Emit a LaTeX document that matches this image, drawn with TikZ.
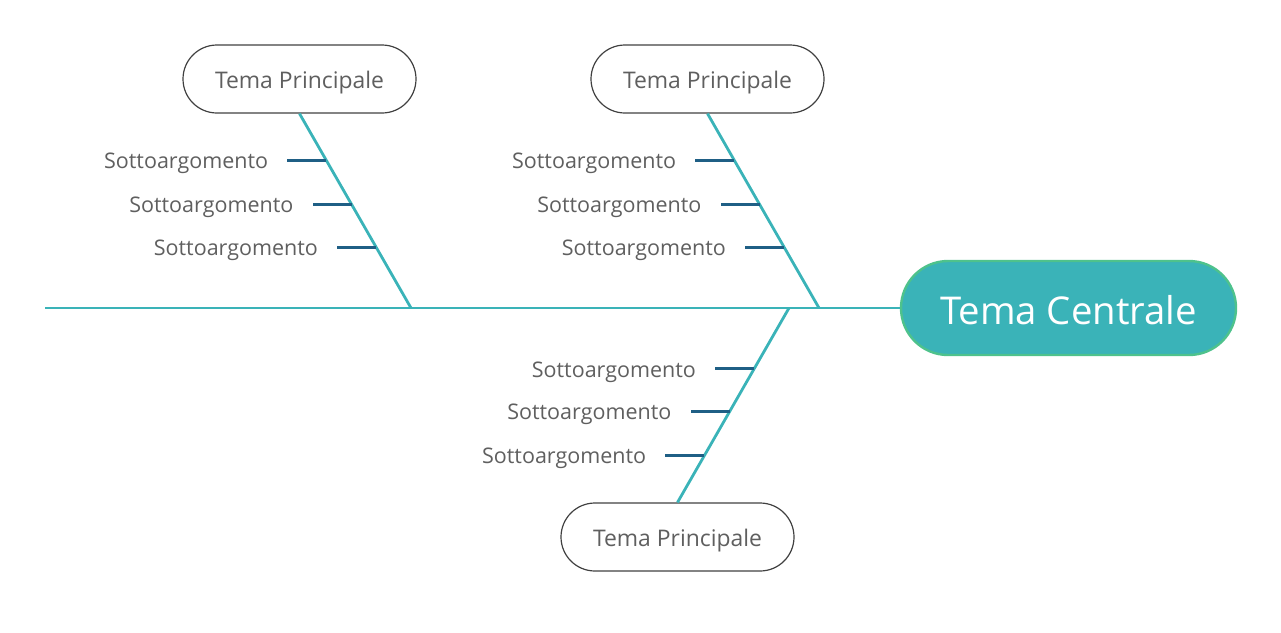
\documentclass[tikz,border=0pt]{standalone}
\usepackage{fontspec}
\setmainfont{Open Sans}
\usetikzlibrary{calc}
\definecolor{bone}{HTML}{3AB3B8}
\definecolor{tick}{HTML}{1F5F85}
\definecolor{txt}{HTML}{5F5F5F}
\definecolor{rim}{HTML}{4EC28C}
\tikzset{
  mainbox/.style={draw=black!75,line width=1.2pt,rounded corners=34,minimum width=233,minimum height=68,text=txt,text height=22pt,text depth=3pt,font=\fontsize{22.9}{26}\selectfont},
  headbox/.style={draw=rim,line width=2.4pt,fill=bone,rounded corners=47,minimum width=335,minimum height=94,text=white,text height=39pt,text depth=6pt,font=\fontsize{38.3}{44}\selectfont},
  subtxt/.style={text=txt,anchor=east,yshift=-3pt,font=\fontsize{21.5}{24}\selectfont},
  boneline/.style={bone,line width=2.8pt},
  tickline/.style={tick,line width=2.8pt}
}

\begin{document}
\begin{tikzpicture}[x=1pt,y=-1pt]
    \useasboundingbox (0,0) rectangle (1281,632);
    % head and spine
    \node[headbox] (head) at (1068.5,308) {Tema Centrale};
    \coordinate (tail) at (45,308);
    \draw[boneline] (tail) -- (head.west);
    \coordinate (j1) at (411,308);
    \coordinate (j2) at (819,308);
    \coordinate (j3) at (789,308);
    % main topics
    \node[mainbox] (p1) at (299.5,79) {Tema Principale};
    \node[mainbox] (p2) at (707.5,79) {Tema Principale};
    \node[mainbox] (p3) at (677.5,537) {Tema Principale};
    \draw[boneline] (p1.south) -- (j1);
    \draw[boneline] (p2.south) -- (j2);
    \draw[boneline] (j3) -- (p3.north);
    % sub topics, upper left
    \foreach \f/\n in {0.241/a,0.467/b,0.687/c}{
      \coordinate (p1\n) at ($(p1.south)!\f!(j1)$);
      \coordinate (q1\n) at ($(p1\n)+(-39,0)$);
      \draw[tickline] (p1\n) -- (q1\n);
      \node[subtxt] (s1\n) at ($(q1\n)+(-15.7,0)$) {Sottoargomento};
    }
    % sub topics, upper right
    \foreach \f/\n in {0.241/a,0.467/b,0.687/c}{
      \coordinate (p2\n) at ($(p2.south)!\f!(j2)$);
      \coordinate (q2\n) at ($(p2\n)+(-39,0)$);
      \draw[tickline] (p2\n) -- (q2\n);
      \node[subtxt] (s2\n) at ($(q2\n)+(-15.7,0)$) {Sottoargomento};
    }
    % sub topics, lower
    \foreach \f/\n in {0.313/a,0.533/b,0.759/c}{
      \coordinate (p3\n) at ($(j3)!\f!(p3.north)$);
      \coordinate (q3\n) at ($(p3\n)+(-39,0)$);
      \draw[tickline] (p3\n) -- (q3\n);
      \node[subtxt] (s3\n) at ($(q3\n)+(-15.7,0)$) {Sottoargomento};
    }
\end{tikzpicture}
\end{document}
